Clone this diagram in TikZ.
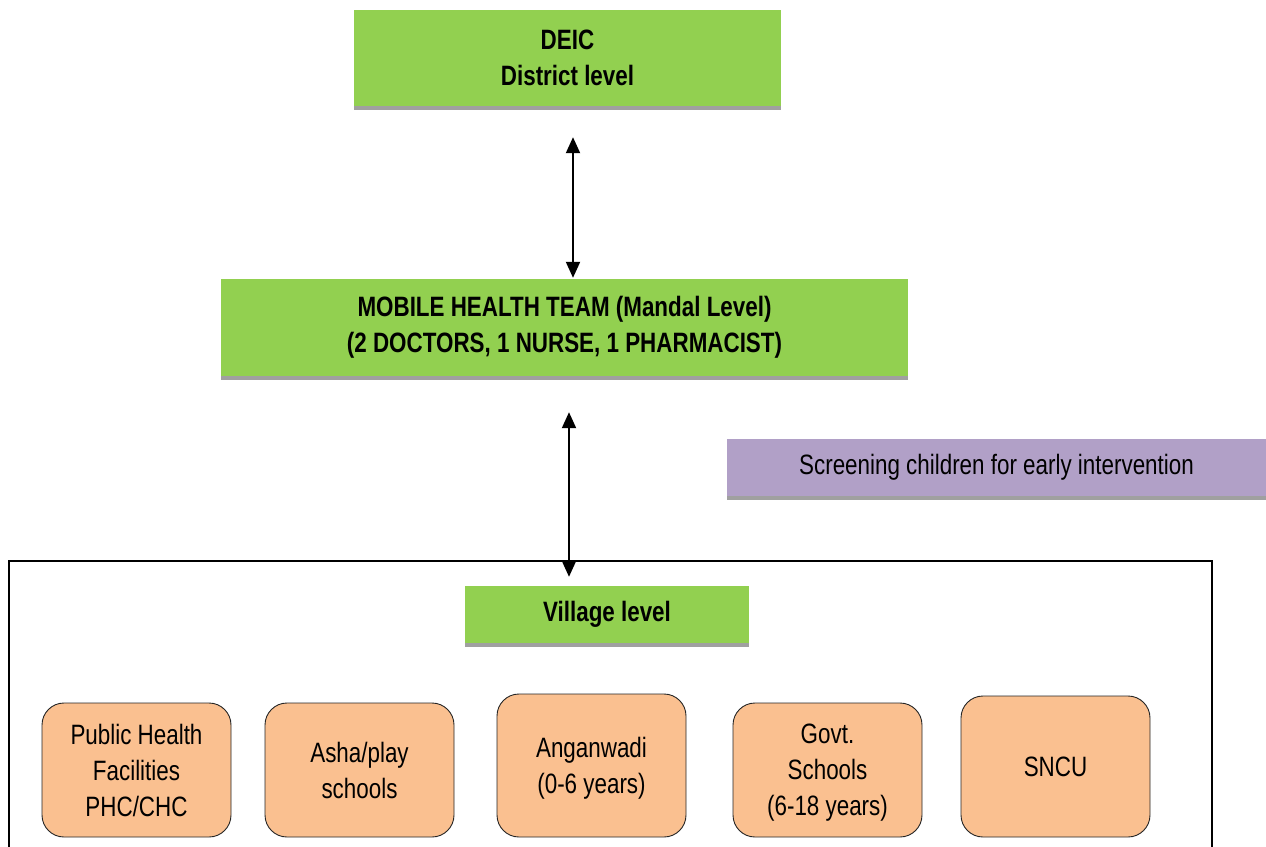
\documentclass[tikz,border=0pt]{standalone}
\usepackage{fontspec}
\setmainfont[FakeStretch=0.8]{Liberation Sans}
\usetikzlibrary{arrows.meta}
\definecolor{boxgreen}{HTML}{92D050}
\definecolor{bargray}{HTML}{A0A0A0}
\definecolor{boxpurple}{HTML}{B1A0C7}
\definecolor{boxorange}{HTML}{FAC090}
\tikzset{
  greenbox/.style={fill=boxgreen, inner sep=0pt, align=center, font=\fontsize{28}{36}\selectfont\bfseries},
  purplebox/.style={fill=boxpurple, inner sep=0pt, align=center, font=\fontsize{28}{36}\selectfont},
  orangebox/.style={fill=boxorange, draw=black!85, line width=0.9pt, rounded corners=22pt, inner sep=0pt, align=center, font=\fontsize{28}{36}\selectfont},
  bar/.style={fill=bargray},
  biarrow/.style={{Triangle[length=16pt,width=14pt]}-{Triangle[length=16pt,width=14pt]}, line width=2pt},
  frame/.style={line width=1.2pt}
}
\begin{document}
\begin{tikzpicture}[x=1pt,y=-1pt]
\useasboundingbox (0,0) rectangle (1266,846);
\fill[white] (0,0) rectangle (1266,846);
% green boxes
\node[greenbox, minimum width=427pt, minimum height=96pt] (deic) at (567.5,58) {DEIC\\District level};
\fill[bar] (deic.south west) rectangle ([yshift=-4pt]deic.south east);
\node[greenbox, minimum width=687pt, minimum height=97pt] (mht) at (564.5,327.5) {MOBILE HEALTH TEAM (Mandal Level)\\(2 DOCTORS, 1 NURSE, 1 PHARMACIST)};
\fill[bar] (mht.south west) rectangle ([yshift=-4pt]mht.south east);
\node[purplebox, minimum width=539pt, minimum height=57pt] (scr) at (996.5,467.5) {Screening children for early intervention};
\fill[bar] (scr.south west) rectangle ([yshift=-4pt]scr.south east);
% frame
\draw[frame] (9,850) -- (9,561) -- (1212,561) -- (1212,850);
\node[greenbox, minimum width=284pt, minimum height=57pt] (vil) at (607,614.5) {Village level};
\fill[bar] (vil.south west) rectangle ([yshift=-4pt]vil.south east);
% arrows
\coordinate (a1) at (573,0);
\coordinate (a2) at (569,0);
\draw[biarrow, shorten <=31pt, shorten >=1pt] (deic.south -| a1) -- (mht.north -| a1);
\draw[biarrow, shorten <=36pt, shorten >=9pt] (mht.south -| a2) -- (vil.north -| a2);
% orange boxes
\node[orangebox, minimum width=189pt, minimum height=134pt] (phf) at (136.5,770) {Public Health\\Facilities\\PHC/CHC};
\node[orangebox, minimum width=189pt, minimum height=134pt] (asha) at (359.5,770) {Asha/play\\schools};
\node[orangebox, minimum width=189pt, minimum height=143pt] (ang) at (591.5,765.5) {\strut Anganwadi\\(0-6 years)};
\node[orangebox, minimum width=189pt, minimum height=134pt] (govt) at (827.5,770) {\strut Govt.\\Schools\\(6-18 years)};
\node[orangebox, minimum width=189pt, minimum height=141pt] (sncu) at (1055.5,766.5) {SNCU};
\end{tikzpicture}
\end{document}
